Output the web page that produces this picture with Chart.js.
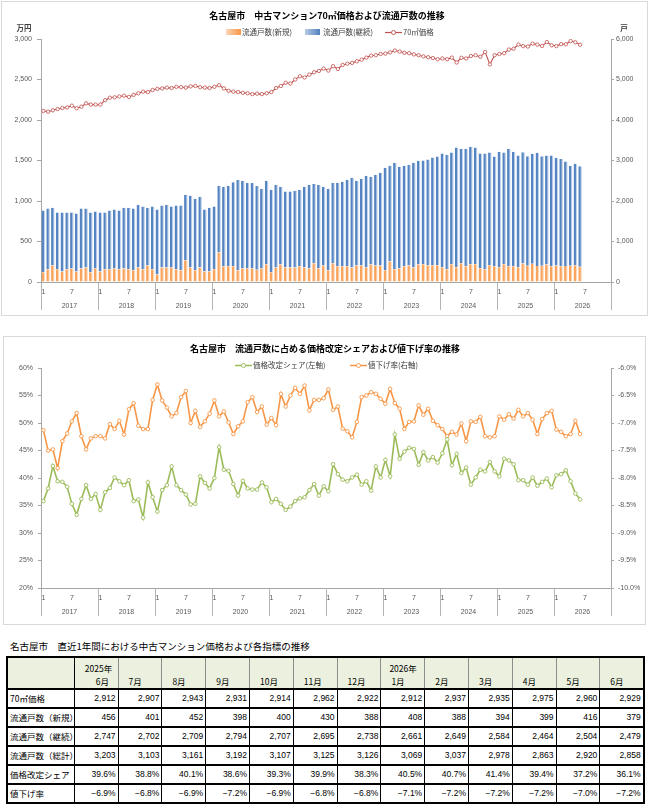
<!DOCTYPE html>
<html lang="ja">
<head>
<meta charset="utf-8">
<title>名古屋市 中古マンション価格・流通戸数</title>
<script src="https://cdn.jsdelivr.net/npm/chart.js@4.4.1/dist/chart.umd.min.js"></script>
<style>
  html, body { margin: 0; padding: 0; background: #fff; }
  body { width: 649px; height: 805px; position: relative; overflow: hidden;
         font-family: 'Liberation Sans', 'Noto Sans CJK JP', sans-serif; color: #000; }
  .box { position: absolute; border: 1px solid #d9d9d9; box-sizing: border-box; }
  canvas { position: absolute; left: 0; }
  .t { position: absolute; white-space: nowrap; line-height: 1; transform: translateY(-50%); }
  .c { transform: translate(-50%, -50%); }
  .title { font-size: 9px; font-weight: bold; font-family: 'Noto Sans CJK JP', sans-serif; }
  .leg { font-size: 7.5px; color: #404040; font-family: 'Noto Sans CJK JP', sans-serif; }
  .unit { font-size: 7.5px; font-weight: bold; color: #404040; font-family: 'Noto Sans CJK JP', sans-serif; }
  .sw { position: absolute; width: 15px; height: 6px; }
  svg { position: absolute; overflow: visible; }

  #tblTitle { left: 10px; top: 647px; font-size: 9.5px; font-family: 'Noto Sans CJK JP', sans-serif; }
  table { position: absolute; left: 6px; top: 656px; border-collapse: collapse; table-layout: fixed;
          width: 637px; border: 2px solid #000; font-size: 8.5px; }
  th { background: #ebf1de; font-weight: normal; text-align: left; padding: 0; height: 30px;
       border-right: 1px solid #8c8c8c; border-bottom: 2px solid #000; vertical-align: top;
       font-family: 'Noto Sans CJK JP', sans-serif; }
  th .yr, th .mo { height: 13px; line-height: 13px; padding-left: 10px; }
  th .yr { margin-top: 4px; }
  td { height: 17px; padding: 0 2px; border-right: 1px solid #000; border-bottom: 2px solid #000;
       text-align: right; line-height: 17px; white-space: nowrap; }
  td.lab { text-align: left; font-family: 'Noto Sans CJK JP', sans-serif; }
</style>
</head>
<body>

<div class="box" style="left:1px;top:1px;width:647px;height:315px;"></div>
<canvas id="chartTop" width="649" height="316" style="top:0;"></canvas>

<div class="t c title" style="left:327px;top:15px;">名古屋市　中古マンション70㎡価格および流通戸数の推移</div>
<div class="t c unit" style="left:24px;top:28px;">万円</div>
<div class="t c unit" style="left:624px;top:28px;">戸</div>
<div class="sw" style="left:226px;top:29px;background:linear-gradient(to right,#fcd5b4,#f79646);"></div>
<div class="t leg" style="left:242px;top:32.3px;">流通戸数(新規)</div>
<div class="sw" style="left:305px;top:29px;background:linear-gradient(to right,#b8cce4,#4f81bd);"></div>
<div class="t leg" style="left:323px;top:32.3px;">流通戸数(継続)</div>
<svg style="left:385px;top:29px;" width="17" height="7"><line x1="0" y1="3.5" x2="17" y2="3.5" stroke="#c0504d" stroke-width="1.2"/><circle cx="8.5" cy="3.5" r="2" fill="#fff" stroke="#c0504d" stroke-width="0.9"/></svg>
<div class="t leg" style="left:403px;top:32.3px;">70㎡価格</div>

<div class="box" style="left:3px;top:336px;width:643px;height:289px;"></div>
<canvas id="chartMid" width="649" height="289" style="top:336px;"></canvas>

<div class="t c title" style="left:325px;top:347.7px;">名古屋市　流通戸数に占める価格改定シェアおよび値下げ率の推移</div>
<svg style="left:235px;top:361.5px;" width="17" height="7"><line x1="0" y1="3.5" x2="17" y2="3.5" stroke="#9bbb59" stroke-width="1.5"/><circle cx="8.5" cy="3.5" r="2" fill="#fff" stroke="#9bbb59" stroke-width="0.9"/></svg>
<div class="t leg" style="left:253px;top:365px;">価格改定シェア(左軸)</div>
<svg style="left:350px;top:361.5px;" width="17" height="7"><line x1="0" y1="3.5" x2="17" y2="3.5" stroke="#f79646" stroke-width="1.5"/><circle cx="8.5" cy="3.5" r="2" fill="#fff" stroke="#f79646" stroke-width="0.9"/></svg>
<div class="t leg" style="left:368px;top:365px;">値下げ率(右軸)</div>

<div class="t" id="tblTitle">名古屋市　直近1年間における中古マンション価格および各指標の推移</div>
<table id="tbl"></table>

<script>
// ---- data (monthly, 2017-01 .. 2026-06) ----
const years = ['2017', '2018', '2019', '2020', '2021', '2022', '2023', '2024', '2025', '2026'];
const monthTicks = [1, 7];

// 70㎡価格 (万円)
const price = [
  2112, 2103, 2120, 2135, 2148, 2155, 2177, 2145, 2165, 2205, 2190, 2190,
  2190, 2245, 2275, 2280, 2290, 2300, 2285, 2310, 2330, 2350, 2345, 2370,
  2385, 2390, 2400, 2395, 2410, 2405, 2400, 2415, 2420, 2405, 2400, 2395,
  2410, 2430, 2390, 2360, 2350, 2345, 2335, 2330, 2320, 2325, 2320, 2330,
  2345, 2395, 2420, 2460, 2450, 2500, 2540, 2525, 2560, 2590, 2605, 2635,
  2610, 2665, 2630, 2680, 2695, 2705, 2725, 2745, 2770, 2795, 2800, 2815,
  2820, 2835, 2858, 2845, 2830, 2825, 2810, 2800, 2785, 2775, 2765, 2750,
  2760, 2750, 2770, 2710, 2768, 2760, 2790, 2800, 2780, 2840, 2686, 2800,
  2815, 2825, 2870, 2880, 2932, 2912, 2907, 2943, 2931, 2914, 2962, 2922,
  2912, 2937, 2935, 2975, 2960, 2929
];

// 流通戸数(新規)
const newUnits = [
  238, 312, 410, 312, 262, 312, 336, 262, 336, 360, 238, 336,
  262, 312, 312, 336, 312, 336, 312, 288, 360, 312, 410, 312,
  188, 360, 360, 360, 312, 288, 534, 360, 288, 360, 262, 262,
  312, 730, 386, 386, 386, 288, 336, 336, 336, 304, 336, 434,
  238, 360, 434, 360, 360, 360, 386, 360, 336, 460, 336, 410,
  288, 460, 386, 386, 386, 360, 410, 410, 360, 434, 410, 410,
  288, 508, 312, 336, 386, 410, 360, 434, 437, 411, 411, 411,
  362, 313, 437, 362, 460, 387, 437, 437, 337, 313, 411, 387,
  362, 437, 387, 387, 362, 456, 401, 452, 398, 400, 430, 388,
  408, 388, 394, 399, 416, 379
];

// 流通戸数(継続)
const contUnits = [
  1526, 1500, 1426, 1402, 1452, 1402, 1378, 1428, 1476, 1452, 1476, 1402,
  1452, 1402, 1452, 1452, 1452, 1500, 1524, 1524, 1550, 1550, 1426, 1550,
  1600, 1526, 1550, 1502, 1574, 1598, 1622, 1772, 1770, 1748, 1526, 1574,
  1550, 1648, 1968, 1992, 2074, 2230, 2166, 2108, 2108, 2068, 1968, 2068,
  2042, 2036, 1920, 1872, 1872, 1896, 1894, 1994, 2068, 1960, 2060, 1944,
  2016, 1992, 2066, 2092, 2140, 2216, 2092, 2142, 2264, 2166, 2240, 2288,
  2534, 2362, 2632, 2510, 2484, 2486, 2584, 2560, 2563, 2611, 2660, 2685,
  2808, 2832, 2758, 2956, 2833, 2906, 2905, 2881, 2833, 2857, 2784, 2709,
  2857, 2758, 2906, 2832, 2759, 2747, 2702, 2709, 2794, 2707, 2695, 2738,
  2661, 2649, 2584, 2464, 2504, 2479
];

// 価格改定シェア (%)
const shareRevised = [
  35.8, 38.1, 42.2, 39.4, 39.3, 38.4, 35.3, 33.3, 36.2, 38.7, 36.2, 37.1,
  34.2, 37.4, 38.2, 40.1, 39.4, 38.7, 39.6, 35.8, 36.1, 32.8, 39.2, 36.5,
  33.9, 37.8, 38.7, 42.1, 38.7, 37.8, 37.0, 35.2, 35.3, 40.3, 39.1, 38.1,
  40.0, 45.6, 41.5, 41.3, 38.9, 36.8, 39.5, 38.1, 37.9, 37.9, 39.2, 38.3,
  35.6, 36.2, 35.3, 34.2, 34.8, 35.8, 36.3, 36.5, 37.8, 38.9, 36.8, 38.5,
  37.6, 42.5, 40.7, 39.7, 39.4, 40.1, 40.6, 38.8, 39.4, 37.7, 42.1, 40.1,
  43.3, 40.3, 47.9, 43.5, 44.8, 45.5, 45.3, 42.4, 44.7, 43.2, 43.8, 42.8,
  44.5, 47.0, 42.3, 44.4, 40.9, 41.9, 38.8, 40.1, 41.5, 41.2, 42.9, 41.2,
  40.3, 43.5, 43.2, 42.5, 39.6, 39.6, 38.8, 40.1, 38.6, 39.3, 39.9, 38.3,
  40.5, 40.7, 41.4, 39.4, 37.2, 36.1
];

// 値下げ率 (%)
const cutRate = [
  -7.13, -7.50, -7.48, -7.82, -7.33, -7.19, -6.97, -6.82, -7.24, -7.48, -7.28, -7.24,
  -7.24, -7.28, -7.02, -7.11, -6.96, -7.21, -6.75, -6.64, -7.05, -7.11, -7.11, -6.58,
  -6.30, -6.59, -6.72, -6.88, -6.82, -6.53, -6.42, -7.00, -6.78, -7.07, -6.97, -6.83,
  -6.59, -6.88, -6.79, -6.99, -7.20, -7.06, -6.97, -6.62, -6.53, -6.80, -6.70, -7.03,
  -6.91, -7.04, -6.47, -6.70, -6.50, -6.36, -6.47, -6.32, -6.77, -6.58, -6.58, -6.55,
  -6.39, -6.76, -6.70, -7.10, -7.15, -7.26, -6.98, -6.53, -6.50, -6.44, -6.47, -6.56,
  -6.65, -6.38, -6.64, -6.74, -7.11, -6.98, -6.97, -6.68, -6.85, -6.74, -6.96, -7.04,
  -7.11, -7.24, -7.16, -7.21, -7.01, -7.33, -6.97, -6.98, -6.89, -7.24, -7.26, -7.24,
  -6.88, -6.94, -6.84, -6.92, -6.76, -6.88, -6.82, -6.94, -7.20, -6.93, -6.82, -6.78,
  -7.12, -7.16, -7.24, -7.20, -6.96, -7.20
];

// one category per month, whole years on the axis
const labels = years.flatMap(y => Array.from({ length: 12 }, (_, i) => y + '-' + (i + 1)));

// ---- shared axis styling ----
const FONT = "'Liberation Sans', 'Noto Sans CJK JP', sans-serif";
const TXT = '#595959';
const AXIS = '#a6a6a6';
const SEP = '#b4b4b4';

Chart.defaults.font.family = FONT;
Chart.defaults.font.size = 7;
Chart.defaults.color = TXT;

function monthAxis() {
  return {
    type: 'category', position: 'bottom', offset: true, weight: 0,
    grid: {
      offset: true, drawOnChartArea: false, drawTicks: true, tickLength: 28, lineWidth: 1,
      color: c => (c.type !== 'tick' || c.index % 12 === 0) ? SEP : 'rgba(0,0,0,0)',
    },
    border: { color: AXIS },
    ticks: {
      autoSkip: false, maxRotation: 0, minRotation: 0, padding: -22, color: TXT,
      callback: (v, i) => monthTicks.includes(i % 12 + 1) ? String(i % 12 + 1) : '',
    },
    afterFit: s => { s.height = 17; },
  };
}

function yearAxis() {
  return {
    type: 'category', position: 'bottom', offset: true, weight: 1,
    grid: { display: false, drawTicks: false }, border: { display: false },
    ticks: {
      autoSkip: false, maxRotation: 0, minRotation: 0, padding: 3, labelOffset: -2.4, color: TXT,
      callback: (v, i) => i % 12 === 6 ? years[Math.floor(i / 12)] : '',
    },
    afterFit: s => { s.height = 13; },
  };
}

function valueAxis(pos, min, max, step, fmt, width, tickLen, pad) {
  return {
    position: pos, min, max,
    grid: { drawOnChartArea: false, drawTicks: true, tickLength: tickLen, color: AXIS },
    border: { color: AXIS },
    ticks: { stepSize: step, padding: pad, color: TXT, callback: fmt },
    afterFit: s => { s.width = width; },
  };
}

const comma = v => v.toLocaleString('en-US');

// ---- chart 1: price + listings ----
new Chart(document.getElementById('chartTop'), {
  type: 'bar',
  data: {
    labels,
    datasets: [
      {
        type: 'line', label: '70㎡価格', data: price, yAxisID: 'y', xAxisID: 'x', order: 0,
        borderColor: '#c0504d', borderWidth: 1.1, tension: 0,
        pointRadius: 1.7, pointBorderWidth: 0.8, pointBackgroundColor: '#fff', pointBorderColor: '#c0504d',
      },
      {
        label: '流通戸数(新規)', data: newUnits, yAxisID: 'y1', xAxisID: 'x', order: 1,
        backgroundColor: '#f9a35c', borderColor: '#fddcbf',
        borderWidth: { left: 0, right: 1.2, top: 0, bottom: 0 },
        barPercentage: 0.76, categoryPercentage: 1,
      },
      {
        label: '流通戸数(継続)', data: contUnits, yAxisID: 'y1', xAxisID: 'x', order: 2,
        backgroundColor: '#5485c2', borderColor: '#c3d5ec',
        borderWidth: { left: 0, right: 1.2, top: 0, bottom: 0 },
        barPercentage: 0.76, categoryPercentage: 1,
      },
    ],
  },
  options: {
    responsive: false, animation: false, locale: 'en-US',
    layout: { padding: { left: 5, right: 5, top: 39, bottom: 4 } },
    plugins: { legend: { display: false }, tooltip: { enabled: false } },
    scales: {
      x: Object.assign(monthAxis(), { stacked: true }),
      xYear: yearAxis(),
      y: valueAxis('left', 0, 3000, 500, comma, 36, 4, 5),
      y1: Object.assign(valueAxis('right', 0, 6000, 1000, comma, 33, 3, 2), { stacked: true }),
    },
  },
});

// ---- chart 2: revision share + price-cut rate ----
new Chart(document.getElementById('chartMid'), {
  type: 'line',
  data: {
    labels,
    datasets: [
      {
        label: '価格改定シェア(左軸)', data: shareRevised, yAxisID: 'y', xAxisID: 'x',
        borderColor: '#9bbb59', borderWidth: 1.6, tension: 0,
        pointRadius: 1.8, pointBorderWidth: 0.9, pointBackgroundColor: '#fff', pointBorderColor: '#9bbb59',
      },
      {
        label: '値下げ率(右軸)', data: cutRate, yAxisID: 'y1', xAxisID: 'x',
        borderColor: '#f79646', borderWidth: 1.6, tension: 0,
        pointRadius: 1.8, pointBorderWidth: 0.9, pointBackgroundColor: '#fff', pointBorderColor: '#f79646',
      },
    ],
  },
  options: {
    responsive: false, animation: false, locale: 'en-US',
    layout: { padding: { left: 5, right: 5, top: 32, bottom: 7 } },
    plugins: { legend: { display: false }, tooltip: { enabled: false } },
    scales: {
      x: monthAxis(),
      xYear: yearAxis(),
      y: valueAxis('left', 20, 60, 5, v => v + '%', 36, 3, 5),
      y1: valueAxis('right', -10, -6, 0.5, v => v.toFixed(1) + '%', 33, 3, 4),
    },
  },
});

// ---- table: last 13 months ----
(function buildTable() {
  const n = 13;
  const start = price.length - n;
  const cols = Array.from({ length: n }, (_, k) => start + k);
  const minus = s => s.replace('-', '\u2212');

  let html = '<colgroup><col style="width:67.3px">' + cols.map(() => '<col style="width:43.8px">').join('') + '</colgroup>';
  html += '<tr><th style="border-right:1px solid #000"></th>' + cols.map((i, k) => {
    const [y, m] = labels[i].split('-');
    const yr = (k === 0 || m === '1') ? y + '年' : '';
    const pad = k === 0 ? ' style="padding-left:21px"' : '';
    const ypad = m === '1' ? ' style="padding-left:8px"' : '';
    return `<th><div class="yr"${ypad}>${yr}</div><div class="mo"${pad}>${m}月</div></th>`;
  }).join('') + '</tr>';

  const rows = [
    ['70㎡価格', i => comma(price[i])],
    ['流通戸数（新規）', i => comma(newUnits[i])],
    ['流通戸数（継続）', i => comma(contUnits[i])],
    ['流通戸数（総計）', i => comma(newUnits[i] + contUnits[i])],
    ['価格改定シェア', i => shareRevised[i].toFixed(1) + '%'],
    ['値下げ率', i => minus(cutRate[i].toFixed(1)) + '%'],
  ];
  html += rows.map(([name, f]) =>
    `<tr><td class="lab">${name}</td>` + cols.map(i => `<td>${f(i)}</td>`).join('') + '</tr>'
  ).join('');
  document.getElementById('tbl').innerHTML = html;
})();
</script>
</body>
</html>
